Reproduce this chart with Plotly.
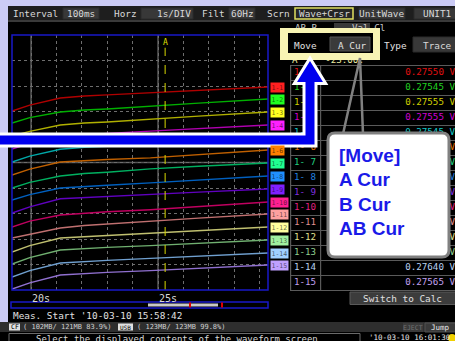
import plotly.graph_objects as go

W, H = 455, 341
MONO = "DejaVu Sans Mono"

# waveform display positions (divisions, 0 = bottom of screen)
time_s = [19.25, 19.95, 21.15, 22.1, 23.0, 24.7, 26.6, 29.35]
ch01 = [7.02, 7.25, 7.53, 7.61, 7.65, 7.73, 7.84, 7.96]
ch02 = [6.55, 6.76, 6.98, 7.06, 7.10, 7.22, 7.33, 7.49]
ch03 = [6.04, 6.22, 6.47, 6.55, 6.59, 6.71, 6.82, 6.98]
ch04 = [5.53, 5.75, 6.02, 6.09, 6.14, 6.23, 6.33, 6.47]
ch05 = [5.02, 5.25, 5.52, 5.60, 5.64, 5.72, 5.83, 5.96]
ch06 = [4.51, 4.74, 5.02, 5.08, 5.12, 5.18, 5.31, 5.49]
ch07 = [4.00, 4.22, 4.47, 4.57, 4.62, 4.75, 4.85, 4.98]
ch08 = [3.53, 3.74, 4.00, 4.07, 4.11, 4.20, 4.31, 4.47]
ch09 = [3.02, 3.26, 3.58, 3.63, 3.67, 3.74, 3.84, 3.96]
ch10 = [2.47, 2.70, 2.94, 3.02, 3.07, 3.15, 3.27, 3.45]
ch11 = [2.04, 2.18, 2.43, 2.53, 2.59, 2.70, 2.82, 2.98]
ch12 = [1.49, 1.74, 2.04, 2.09, 2.13, 2.22, 2.33, 2.47]
ch13 = [1.02, 1.27, 1.57, 1.63, 1.67, 1.74, 1.84, 1.96]
ch14 = [0.51, 0.76, 1.06, 1.12, 1.16, 1.24, 1.33, 1.45]
ch15 = [0.04, 0.28, 0.59, 0.65, 0.69, 0.76, 0.86, 0.98]
channels = [ch01, ch02, ch03, ch04, ch05, ch06, ch07, ch08, ch09, ch10, ch11, ch12, ch13, ch14, ch15]

tag_names = ["1-1", "1-2", "1-3", "1-4", "1-5", "1-6", "1-7", "1-8", "1-9", "1-10",
             "1-11", "1-12", "1-13", "1-14", "1-15"]
row_names = ["1- 1", "1- 2", "1- 3", "1- 4", "1- 5", "1- 6", "1- 7", "1- 8", "1- 9", "1-10",
             "1-11", "1-12", "1-13", "1-14", "1-15"]
readings = ["0.27550 V", "0.27545 V", "0.27555 V", "0.27555 V", "0.27545 V", "0.27560 V",
            "0.27550 V", "0.27545 V", "0.27555 V", "0.27560 V", "0.27550 V", "0.27545 V",
            "0.27555 V", "0.27640 V", "0.27565 V"]
line_colors = ['#b00000', '#00b000', '#b0b000', '#b000b0', '#00a8a8', '#c06000', '#00b060', '#0060c0',
               '#6000c0', '#c00060', '#c07070', '#c0c070', '#70b070', '#70a0d0', '#9070d0']
tag_colors = ['#ff2020', '#20ff20', '#ffff20', '#ff20ff', '#20e0e0', '#ff8000', '#20ff90', '#2090ff',
              '#8020ff', '#ff2090', '#ffa0a0', '#ffffa0', '#a0f0a0', '#a0d0ff', '#c0a0ff']
value_colors = ['#e01010', '#20d020', '#d0d000', '#d000d0', '#10c8c8', '#e07000', '#20d080', '#2080e0',
                '#8030e0', '#e02080', '#e09090', '#e0e090', '#90d090', '#b8d0f0', '#c0a0f0']
cursor_a = 25.28
time_labels = [20, 25]


def px(x):
    return x / W


def py(y):
    return 1 - y / H


shapes = []
notes = []


def box(x0, y0, x1, y1, fill=None, line=None, lw=1, layer="below"):
    shapes.append(dict(type="rect", xref="paper", yref="paper",
                       x0=px(x0), x1=px(x1), y0=py(y1), y1=py(y0),
                       fillcolor=fill or "rgba(0,0,0,0)",
                       line=dict(color=line or "rgba(0,0,0,0)", width=lw if line else 0),
                       layer=layer))


def poly(pts, fill=None, line=None, lw=1, closed=True, layer="above"):
    d = "M " + " L ".join(f"{px(x):.5f},{py(y):.5f}" for x, y in pts)
    if closed:
        d += " Z"
    shapes.append(dict(type="path", xref="paper", yref="paper", path=d,
                       fillcolor=fill or "rgba(0,0,0,0)",
                       line=dict(color=line or "rgba(0,0,0,0)", width=lw if line else 0),
                       layer=layer))


def note(x, y, text, size=9.4, color="#d8d8d8", anchor="left", family=MONO, xref="x2", bg=None):
    notes.append(dict(xref=xref, yref="y2", x=x, y=y, text=text, showarrow=False,
                      xanchor=anchor, yanchor="middle", borderpad=0,
                      bgcolor=bg or "rgba(0,0,0,0)",
                      font=dict(size=size, color=color, family=family)))


fig = go.Figure()

for vals, col in zip(channels, line_colors):
    fig.add_trace(go.Scatter(x=time_s, y=vals, mode="lines", line=dict(color=col, width=1.4),
                             hoverinfo="skip"))

# ---- frame and header ----
box(0, 0, W, 6, fill="#cbcbf5")
box(0, 0, 8, 322, fill="#cbcbf5")
box(8, 6, W, 20, fill="#1e1e1e")
box(8, 20, W, 22, fill="#3a3a3a")
for x0, x1 in [(63, 99), (141, 193), (229, 255), (359, 405), (414, 458)]:
    box(x0, 8, x1, 19, fill="#383838", line="#2a2a2a")
box(295, 8, 353, 19, fill="#262626", line="#e0e060", lw=1.5)
note(12, 13.5, "Interval")
note(81, 13.5, "100ms", anchor="center")
note(113, 13.5, "Horz")
note(192, 13.5, "1s/DIV", anchor="right")
note(201, 13.5, "Filt")
note(242, 13.5, "60Hz", anchor="center")
note(266, 13.5, "Scrn")
note(324, 13.5, "Wave+Crsr", anchor="center")
note(382, 13.5, "UnitWave", anchor="center")
note(453, 13.5, "UNIT1", anchor="right")

# partially hidden row behind the yellow box
box(334, 23, 370, 35, fill="#383838")
box(413, 37, 458, 52, fill="#383838", line="#2a2a2a")
note(383, 45, "Type", color="#e0e0e0")
note(453, 45, "Trace", anchor="right")

# ---- main plot decorations ----
for t in time_labels:
    shapes.append(dict(type="line", xref="x", yref="y", x0=t, x1=t, y0=0, y1=10,
                       line=dict(color="#555555", width=1.6), layer="below"))
shapes.append(dict(type="line", xref="x", yref="y", x0=19.25, x1=29.33, y0=5, y1=5,
                   line=dict(color="#555555", width=1.6), layer="below"))
shapes.append(dict(type="line", xref="x", yref="y", x0=cursor_a, x1=cursor_a, y0=0, y1=9.5,
                   line=dict(color="#d8d800", width=1, dash="dash"), layer="above"))
box(12, 35, 268, 290, line="#1818c8", lw=1.5, layer="above")
note(cursor_a, 42, "A", size=8, color="#e0e000", anchor="center", xref="x")
for t in time_labels:
    note(t, 298, f"{t}s", size=10, color="#d8d8d8", xref="x")

for i, (vals, name, col) in enumerate(zip(channels, tag_names, tag_colors)):
    if i == 4:
        continue  # hidden under the arrow
    notes.append(dict(xref="x2", yref="y", x=270, y=vals[-1], text=name, showarrow=False,
                      xanchor="left", yanchor="middle", bgcolor=col, borderpad=0.5,
                      font=dict(size=6.5, color="rgba(0,0,0,0.6)", family=MONO)))

# scroll bar
box(11, 302, 268, 308, line="#1818c8", lw=1.5)
box(148, 303.5, 218, 306.5, fill="#c8c8c8")
box(189, 302.5, 191, 307.5, fill="#e00000")
box(221, 302.5, 223, 307.5, fill="#e00000")
note(12, 315, "Meas. Start '10-03-10 15:58:42", color="#e0e0e0")

# ---- status bar ----
box(0, 322, W, 332, fill="#2e2e2e")
box(9, 323.5, 20, 330.5, fill="#e0e0e0")
note(14.5, 327, "CF", size=6.5, color="#000000", anchor="center")
note(22, 327, "( 102MB/ 121MB 83.9%)", size=7, color="#d0d0d0")
box(118, 323.5, 133, 330.5, fill="#e0e0e0")
note(125.5, 327, "USB", size=6, color="#000000", anchor="center")
note(136, 327, "( 123MB/ 123MB 99.8%)", size=7, color="#d0d0d0")
box(403, 323, 423, 332, fill="#3a3a3a")
note(413, 327.5, "EJECT", size=6.5, color="#707070", anchor="center")
box(425, 323, 458, 332, fill="#3a3a3a", line="#505050")
note(440, 327.5, "Jump", size=7.5, color="#e8e8e8", anchor="center")
box(9, 333.5, 360, 350, line="#6a6a6a", lw=1)
note(35, 338.5, "Select the displayed contents of the waveform screen", size=9, color="#d8d8d8")
note(368, 337.5, "'10-03-10 16:01:30", size=7.5, color="#e8e8e8")
shapes.append(dict(type="circle", xref="paper", yref="paper", x0=px(448), x1=px(456),
                   y0=py(342), y1=py(334), fillcolor="#f0d000", line=dict(width=0), layer="below"))

# ---- value table ----
row_top, row_h = 65.5, 15
for i in range(len(row_names) + 1):
    y = row_top + i * row_h
    box(290, y - 0.5, W + 2, y + 0.5, fill="#5a5a5a")
box(290, row_top, 291.2, row_top + 15 * row_h, fill="#5a5a5a")
box(320, row_top, 321.2, row_top + 15 * row_h, fill="#5a5a5a")
row_y = [row_top + 7.5 + i * row_h for i in range(len(row_names))]
fig.add_trace(go.Scatter(x=[294] * len(row_names), y=row_y, text=row_names, mode="text",
                         textposition="middle right", xaxis="x2", yaxis="y2", hoverinfo="skip",
                         textfont=dict(family=MONO, size=9.2, color=value_colors)))
fig.add_trace(go.Scatter(x=[455] * len(readings), y=row_y, text=readings, mode="text",
                         textposition="middle left", xaxis="x2", yaxis="y2", hoverinfo="skip",
                         textfont=dict(family=MONO, size=9.2, color=value_colors)))
fig.add_trace(go.Scatter(x=[295, 352, 292], y=[29, 29, 61], text=["AB-B", "Val-Cl", "A     -23:00."],
                         mode="text", textposition="middle right", xaxis="x2", yaxis="y2",
                         hoverinfo="skip",
                         textfont=dict(family=MONO, size=9.2, color=["#c8c8c8", "#c8c8c8", "#e8e8a0"])))
box(350, 292, 456, 304.5, fill="#3c3c3c", line="#5a5a5a")
note(402, 298.5, "Switch to Calc", color="#e0e0e0", anchor="center")

# ---- overlays: yellow menu highlight, callout, arrow ----
box(280, 28, 380, 60, fill="#f8f4b4", layer="above")
box(288, 33, 373, 53, fill="#000000", layer="above")
box(330, 37, 370, 51, fill="#3a3a3a", line="#555555", layer="above")
note(293, 45, "Move", color="#e0e0e0")
note(368, 45, "A Cur", color="#e0e0e0", anchor="right")

poly([(343, 134), (360, 58), (363, 134)], line="#808080", lw=2.5, closed=False)
r = 7
x0, y0, x1, y1 = 328, 133, 449, 257
rounded = (f"M {px(x0 + r)},{py(y0)} L {px(x1 - r)},{py(y0)} Q {px(x1)},{py(y0)} {px(x1)},{py(y0 + r)} "
           f"L {px(x1)},{py(y1 - r)} Q {px(x1)},{py(y1)} {px(x1 - r)},{py(y1)} "
           f"L {px(x0 + r)},{py(y1)} Q {px(x0)},{py(y1)} {px(x0)},{py(y1 - r)} "
           f"L {px(x0)},{py(y0 + r)} Q {px(x0)},{py(y0)} {px(x0 + r)},{py(y0)} Z")
shapes.append(dict(type="path", xref="paper", yref="paper", path=rounded, fillcolor="#ffffff",
                   line=dict(color="#808080", width=3), layer="above"))
callout = ["[Move]", "A Cur", "B Cur", "AB Cur"]
for i, txt in enumerate(callout):
    note(338, 155 + i * 24.5, f"<b>{txt}</b>", size=19, color="#1a1ae8",
         family="Liberation Sans, Arial")

arrow = [(-5, 135.5), (305.5, 135.5), (305.5, 82), (297, 82), (310, 61), (323, 82),
         (314.5, 82), (314.5, 144.5), (-5, 144.5)]
poly(arrow, fill="#ffffff", line="#ffffff", lw=6)
poly(arrow, fill="#0000ee")

fig.update_layout(
    width=W, height=H, margin=dict(l=0, r=0, t=0, b=0),
    paper_bgcolor="#000000", plot_bgcolor="rgba(0,0,0,0)", showlegend=False,
    xaxis=dict(domain=[px(12), px(268)], range=[19.25, 29.33], tick0=0, dtick=1,
               showticklabels=False, ticks="", showgrid=True, gridcolor="#6e6e6e",
               griddash="dot", gridwidth=1, zeroline=False, showline=False, fixedrange=True),
    yaxis=dict(domain=[py(290), py(35)], range=[0, 10], tick0=0, dtick=1,
               showticklabels=False, ticks="", showgrid=True, gridcolor="#6e6e6e",
               griddash="dot", gridwidth=1, zeroline=False, showline=False, fixedrange=True),
    xaxis2=dict(domain=[0, 1], range=[0, W], visible=False, anchor="y2", fixedrange=True),
    yaxis2=dict(domain=[0, 1], range=[H, 0], visible=False, anchor="x2", fixedrange=True),
    shapes=shapes, annotations=notes,
)

fig.write_html("out.html", config={"displayModeBar": False},
               post_script="document.body.style.margin='0px';document.body.style.overflow='hidden';")
